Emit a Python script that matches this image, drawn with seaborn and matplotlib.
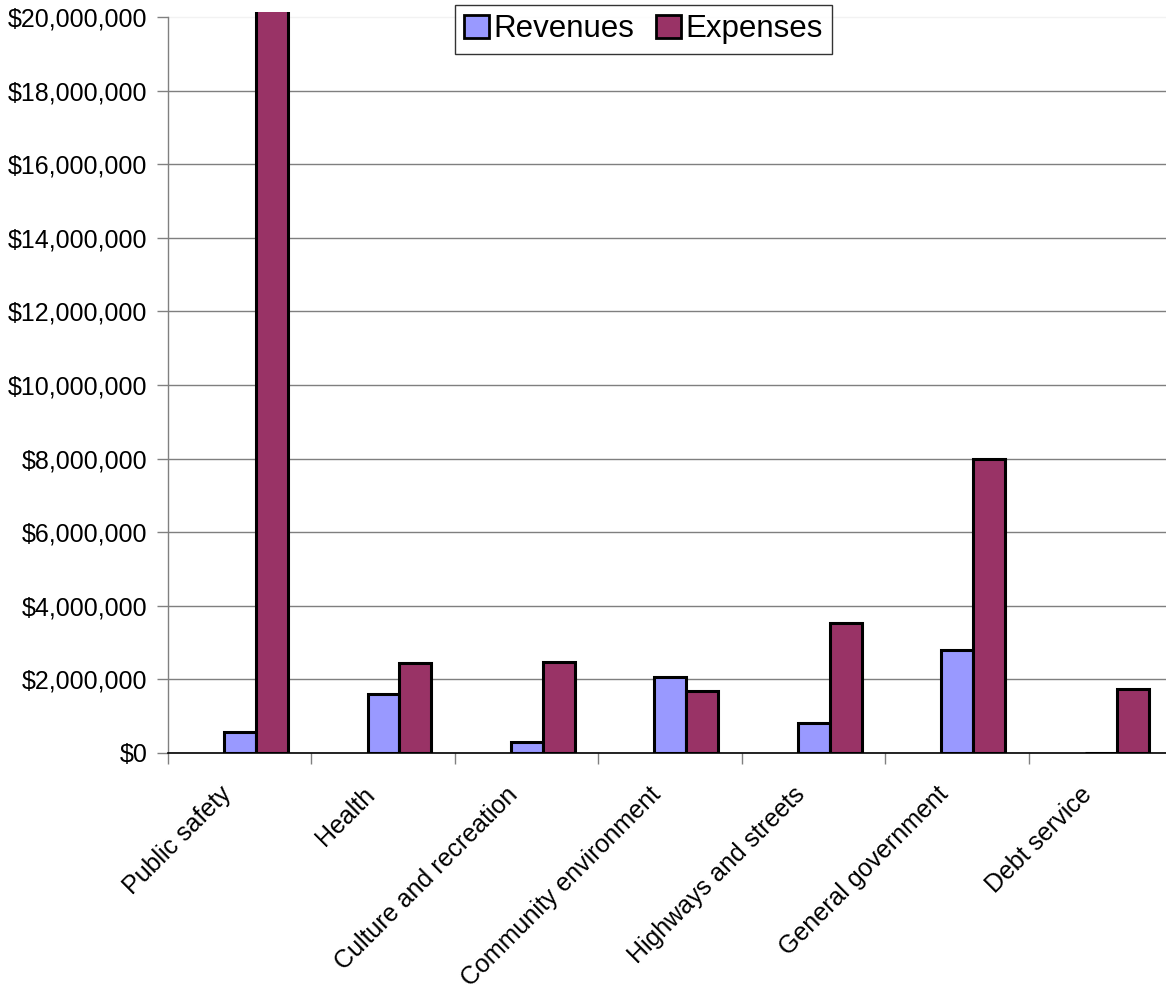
import matplotlib
matplotlib.use("Agg")
import matplotlib.pyplot as plt
import matplotlib.transforms as mtransforms
from matplotlib.patches import Patch
from matplotlib.ticker import FuncFormatter, FixedLocator
import seaborn as sns
import pandas as pd

categories = ["Public safety", "Health", "Culture and recreation",
              "Community environment", "Highways and streets",
              "General government", "Debt service"]
revenues = [580000, 1600000, 300000, 2070000, 810000, 2790000, 0]
expenses = [20400000, 2440000, 2470000, 1690000, 3530000, 7980000, 1750000]
series_names = ["Revenues", "Expenses"]
colors = ["#9999FF", "#993366"]
y_ticks = list(range(0, 20000001, 2000000))

df = pd.DataFrame({
    "Category": categories * 2,
    "Amount": revenues + expenses,
    "Series": [series_names[0]] * len(categories) + [series_names[1]] * len(categories),
})

sns.set_style("white")
plt.rcParams["font.family"] = ["Liberation Sans", "DejaVu Sans"]
plt.rcParams["text.color"] = "black"
plt.rcParams["xtick.labelcolor"] = "black"
plt.rcParams["ytick.labelcolor"] = "black"

fig = plt.figure(figsize=(11.66, 9.89), dpi=100)
ax = fig.add_axes([168 / 1166, (989 - 753) / 989, 1004 / 1166, 741 / 989])

sns.barplot(data=df, x="Category", y="Amount", hue="Series", order=categories,
            hue_order=series_names, palette=colors, width=0.446,
            edgecolor="black", linewidth=2.2, saturation=1, ax=ax, legend=False)

ax.set_xlim(-0.614, 6.386)
ax.set_ylim(0, 20136000)
ax.set_xlabel("")
ax.set_ylabel("")

# y axis
ax.set_yticks(y_ticks)
ax.yaxis.set_major_formatter(FuncFormatter(lambda v, p: f"${v:,.0f}"))
ax.tick_params(axis="y", which="major", left=True, length=8, width=1,
               color="#808080", labelsize=18, labelcolor="black", pad=7)
ax.set_axisbelow(True)
ax.yaxis.grid(True, color="#7f7f7f", linewidth=1)
gls = ax.get_ygridlines()
gls[-1].set_color("#f2f2f2")

# x axis
ax.set_xticks([i - 0.114 for i in range(len(categories))])
ax.set_xticklabels(categories, rotation=45, ha="right", fontsize=18, color="black")
ax.xaxis.set_minor_locator(FixedLocator([i - 0.614 for i in range(len(categories) + 1)]))
ax.tick_params(axis="x", which="major", bottom=True, length=0, pad=21)
ax.tick_params(axis="x", which="minor", bottom=True, length=8, width=1, color="#808080")
offset = mtransforms.ScaledTranslation(-4 / 100, 0, fig.dpi_scale_trans)
for lab in ax.get_xticklabels():
    lab.set_transform(lab.get_transform() + offset)

for s in ["top", "right"]:
    ax.spines[s].set_visible(False)
ax.spines["left"].set_color("#808080")
ax.spines["left"].set_linewidth(1)
ax.spines["left"].set_bounds(0, 20000000)
ax.spines["bottom"].set_color("black")
ax.spines["bottom"].set_linewidth(1.2)

handles = [Patch(facecolor=c, edgecolor="black", linewidth=2) for c in colors]
leg = fig.legend(handles, series_names, loc="upper left",
                 bbox_to_anchor=(455 / 1166, 1 - 5 / 989), ncol=2,
                 fontsize=22.5, frameon=True, fancybox=False, shadow=False,
                 handlelength=0.78, handleheight=0.78, handletextpad=0.15,
                 columnspacing=0.7, borderpad=0.3, borderaxespad=0)
leg.get_frame().set_edgecolor("black")
leg.get_frame().set_linewidth(1)

fig.savefig("out.png", dpi=100)
